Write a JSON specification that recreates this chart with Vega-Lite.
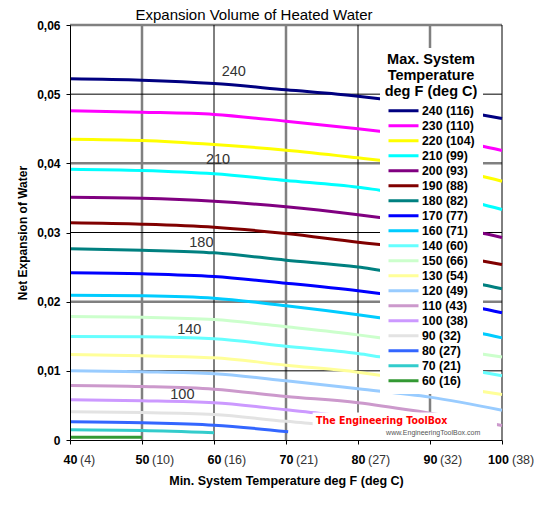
{
  "$schema": "https://vega.github.io/schema/vega-lite/v6.json",
  "width": 432,
  "height": 415,
  "autosize": {"type": "none"},
  "padding": {"left": 70, "top": 25, "right": 34, "bottom": 70},
  "background": "white",
  "config": {"font": "Liberation Sans", "view": {"stroke": null}},
  "title": {"text": "Expansion Volume of Heated Water", "fontSize": 15, "fontWeight": "normal", "color": "black", "anchor": "middle", "frame": "group", "dx": -32, "offset": -16, "baseline": "alphabetic"},
  "datasets": {
    "lines": [
      {"s": "240 (116)", "F": 40, "v": 0.05222}, {"s": "240 (116)", "F": 50, "v": 0.05202}, {"s": "240 (116)", "F": 60, "v": 0.05154}, {"s": "240 (116)", "F": 70, "v": 0.05063}, {"s": "240 (116)", "F": 80, "v": 0.04971}, {"s": "240 (116)", "F": 83, "v": 0.04933}, {"s": "240 (116)", "F": 96.7, "v": 0.0471}, {"s": "240 (116)", "F": 100, "v": 0.04648},
      {"s": "230 (110)", "F": 40, "v": 0.04759}, {"s": "230 (110)", "F": 50, "v": 0.04739}, {"s": "230 (110)", "F": 60, "v": 0.04706}, {"s": "230 (110)", "F": 70, "v": 0.04609}, {"s": "230 (110)", "F": 80, "v": 0.04499}, {"s": "230 (110)", "F": 83, "v": 0.04464}, {"s": "230 (110)", "F": 96.7, "v": 0.04262}, {"s": "230 (110)", "F": 100, "v": 0.04185},
      {"s": "220 (104)", "F": 40, "v": 0.04349}, {"s": "220 (104)", "F": 50, "v": 0.0433}, {"s": "220 (104)", "F": 60, "v": 0.04272}, {"s": "220 (104)", "F": 70, "v": 0.0419}, {"s": "220 (104)", "F": 80, "v": 0.0408}, {"s": "220 (104)", "F": 83, "v": 0.04045}, {"s": "220 (104)", "F": 96.7, "v": 0.03824}, {"s": "220 (104)", "F": 100, "v": 0.03742},
      {"s": "210 (99)", "F": 40, "v": 0.03915}, {"s": "210 (99)", "F": 50, "v": 0.03896}, {"s": "210 (99)", "F": 60, "v": 0.03848}, {"s": "210 (99)", "F": 70, "v": 0.03752}, {"s": "210 (99)", "F": 80, "v": 0.03655}, {"s": "210 (99)", "F": 83, "v": 0.03612}, {"s": "210 (99)", "F": 96.7, "v": 0.03419}, {"s": "210 (99)", "F": 100, "v": 0.03332},
      {"s": "200 (93)", "F": 40, "v": 0.0351}, {"s": "200 (93)", "F": 50, "v": 0.03496}, {"s": "200 (93)", "F": 60, "v": 0.03452}, {"s": "200 (93)", "F": 70, "v": 0.03371}, {"s": "200 (93)", "F": 80, "v": 0.03256}, {"s": "200 (93)", "F": 83, "v": 0.03217}, {"s": "200 (93)", "F": 96.7, "v": 0.03004}, {"s": "200 (93)", "F": 100, "v": 0.02928},
      {"s": "190 (88)", "F": 40, "v": 0.0314}, {"s": "190 (88)", "F": 50, "v": 0.0312}, {"s": "190 (88)", "F": 60, "v": 0.03077}, {"s": "190 (88)", "F": 70, "v": 0.02985}, {"s": "190 (88)", "F": 80, "v": 0.0286}, {"s": "190 (88)", "F": 83, "v": 0.02826}, {"s": "190 (88)", "F": 96.7, "v": 0.026}, {"s": "190 (88)", "F": 100, "v": 0.02537},
      {"s": "180 (82)", "F": 40, "v": 0.02766}, {"s": "180 (82)", "F": 50, "v": 0.02744}, {"s": "180 (82)", "F": 60, "v": 0.02706}, {"s": "180 (82)", "F": 70, "v": 0.026}, {"s": "180 (82)", "F": 80, "v": 0.025}, {"s": "180 (82)", "F": 83, "v": 0.02455}, {"s": "180 (82)", "F": 96.7, "v": 0.02258}, {"s": "180 (82)", "F": 100, "v": 0.02186},
      {"s": "170 (77)", "F": 40, "v": 0.02417}, {"s": "170 (77)", "F": 50, "v": 0.02403}, {"s": "170 (77)", "F": 60, "v": 0.02364}, {"s": "170 (77)", "F": 70, "v": 0.02267}, {"s": "170 (77)", "F": 80, "v": 0.02157}, {"s": "170 (77)", "F": 83, "v": 0.02118}, {"s": "170 (77)", "F": 96.7, "v": 0.01911}, {"s": "170 (77)", "F": 100, "v": 0.01839},
      {"s": "160 (71)", "F": 40, "v": 0.02094}, {"s": "160 (71)", "F": 50, "v": 0.02085}, {"s": "160 (71)", "F": 60, "v": 0.0205}, {"s": "160 (71)", "F": 70, "v": 0.0194}, {"s": "160 (71)", "F": 80, "v": 0.0181}, {"s": "160 (71)", "F": 83, "v": 0.01767}, {"s": "160 (71)", "F": 96.7, "v": 0.0155}, {"s": "160 (71)", "F": 100, "v": 0.01477},
      {"s": "150 (66)", "F": 40, "v": 0.01785}, {"s": "150 (66)", "F": 50, "v": 0.01775}, {"s": "150 (66)", "F": 60, "v": 0.01742}, {"s": "150 (66)", "F": 70, "v": 0.01637}, {"s": "150 (66)", "F": 80, "v": 0.0152}, {"s": "150 (66)", "F": 83, "v": 0.01477}, {"s": "150 (66)", "F": 96.7, "v": 0.0125}, {"s": "150 (66)", "F": 100, "v": 0.012},
      {"s": "140 (60)", "F": 40, "v": 0.01496}, {"s": "140 (60)", "F": 50, "v": 0.01492}, {"s": "140 (60)", "F": 60, "v": 0.01463}, {"s": "140 (60)", "F": 70, "v": 0.01356}, {"s": "140 (60)", "F": 80, "v": 0.0125}, {"s": "140 (60)", "F": 83, "v": 0.01203}, {"s": "140 (60)", "F": 96.7, "v": 0.0099}, {"s": "140 (60)", "F": 100, "v": 0.0093},
      {"s": "130 (54)", "F": 40, "v": 0.01236}, {"s": "130 (54)", "F": 50, "v": 0.01217}, {"s": "130 (54)", "F": 60, "v": 0.01188}, {"s": "130 (54)", "F": 70, "v": 0.01081}, {"s": "130 (54)", "F": 80, "v": 0.0098}, {"s": "130 (54)", "F": 83, "v": 0.00937}, {"s": "130 (54)", "F": 90.2, "v": 0.00812}, {"s": "130 (54)", "F": 100, "v": 0.00658},
      {"s": "120 (49)", "F": 40, "v": 0.01}, {"s": "120 (49)", "F": 50, "v": 0.00986}, {"s": "120 (49)", "F": 60, "v": 0.00957}, {"s": "120 (49)", "F": 70, "v": 0.00856}, {"s": "120 (49)", "F": 80, "v": 0.0074}, {"s": "120 (49)", "F": 90, "v": 0.0062}, {"s": "120 (49)", "F": 100, "v": 0.00431},
      {"s": "110 (43)", "F": 40, "v": 0.00788}, {"s": "110 (43)", "F": 50, "v": 0.00773}, {"s": "110 (43)", "F": 60, "v": 0.00735}, {"s": "110 (43)", "F": 70, "v": 0.00629}, {"s": "110 (43)", "F": 80, "v": 0.0054}, {"s": "110 (43)", "F": 88.8, "v": 0.00408}, {"s": "110 (43)", "F": 100, "v": 0.0021},
      {"s": "100 (38)", "F": 40, "v": 0.00581}, {"s": "100 (38)", "F": 50, "v": 0.00567}, {"s": "100 (38)", "F": 60, "v": 0.00538}, {"s": "100 (38)", "F": 70, "v": 0.00437}, {"s": "100 (38)", "F": 74, "v": 0.00393}, {"s": "100 (38)", "F": 80, "v": 0.0031}, {"s": "100 (38)", "F": 90, "v": 0.0017},
      {"s": "90 (32)", "F": 40, "v": 0.00407}, {"s": "90 (32)", "F": 50, "v": 0.00398}, {"s": "90 (32)", "F": 60, "v": 0.00369}, {"s": "90 (32)", "F": 70, "v": 0.0027}, {"s": "90 (32)", "F": 73.5, "v": 0.0024}, {"s": "90 (32)", "F": 80, "v": 0.0016},
      {"s": "80 (27)", "F": 40, "v": 0.00263}, {"s": "80 (27)", "F": 50, "v": 0.00249}, {"s": "80 (27)", "F": 60, "v": 0.00214}, {"s": "80 (27)", "F": 70.3, "v": 0.00119},
      {"s": "70 (21)", "F": 40, "v": 0.00147}, {"s": "70 (21)", "F": 50, "v": 0.00137}, {"s": "70 (21)", "F": 60, "v": 0.00104},
      {"s": "60 (16)", "F": 40, "v": 0.0004}, {"s": "60 (16)", "F": 50, "v": 0.0004}
    ]
  },
  "layer": [
    {
      "data": {"values": [{"F": 50}, {"F": 70}, {"F": 90}]},
      "mark": {"type": "rule", "color": "#808080", "strokeWidth": 2.5},
      "encoding": {"x": {"field": "F", "type": "quantitative", "scale": {"domain": [40, 100], "nice": false, "zero": false}}}
    },
    {
      "data": {"values": [{"v": 0.02}, {"v": 0.04}, {"v": 0.06}]},
      "mark": {"type": "rule", "color": "#808080", "strokeWidth": 2.5},
      "encoding": {"y": {"field": "v", "type": "quantitative", "scale": {"domain": [0, 0.06], "nice": false}}}
    },
    {
      "data": {"values": [{"F": 60}, {"F": 80}, {"F": 100}]},
      "mark": {"type": "rule", "color": "black", "strokeWidth": 1},
      "encoding": {"x": {"field": "F", "type": "quantitative", "scale": {"domain": [40, 100], "nice": false, "zero": false}}}
    },
    {
      "data": {"values": [{"v": 0.01}, {"v": 0.03}, {"v": 0.05}]},
      "mark": {"type": "rule", "color": "black", "strokeWidth": 1},
      "encoding": {"y": {"field": "v", "type": "quantitative", "scale": {"domain": [0, 0.06], "nice": false}}}
    },
    {
      "data": {"name": "lines"},
      "mark": {"type": "line", "strokeWidth": 3, "interpolate": "monotone"},
      "encoding": {
        "x": {"field": "F", "type": "quantitative", "scale": {"domain": [40, 100], "nice": false, "zero": false},
          "axis": {"title": "Min. System Temperature deg F (deg C)", "values": [40, 50, 60, 70, 80, 90, 100], "grid": false, "zindex": 1, "labelFlush": false,
            "labelOffset": {"condition": {"test": "datum.value == 100", "value": -4}, "value": 0},
            "domainColor": "black", "tickColor": "black", "tickSize": 4, "labelPadding": 9, "labelFontSize": 12.5, "labelFontWeight": "bold", "labelColor": "black",
            "titleFontSize": 12.5, "titleFontWeight": "bold", "titleColor": "black", "titlePadding": 9}},
        "y": {"field": "v", "type": "quantitative", "scale": {"domain": [0, 0.06], "nice": false},
          "axis": {"title": "Net Expansion of Water", "values": [0, 0.01, 0.02, 0.03, 0.04, 0.05, 0.06], "grid": false, "zindex": 1, "labelFlush": false,
            "labelExpr": "datum.value == 0 ? '0' : replace(format(datum.value, '.2f'), '.', ',')",
            "domainColor": "black", "tickColor": "black", "tickSize": 4, "labelPadding": 6, "labelFontSize": 12, "labelFontWeight": "bold", "labelColor": "black",
            "titleFontSize": 12, "titleFontWeight": "bold", "titleColor": "black", "titlePadding": 7}},
        "color": {"field": "s", "type": "nominal",
          "scale": {
            "domain": ["240 (116)", "230 (110)", "220 (104)", "210 (99)", "200 (93)", "190 (88)", "180 (82)", "170 (77)", "160 (71)", "140 (60)", "150 (66)", "130 (54)", "120 (49)", "110 (43)", "100 (38)", "90 (32)", "80 (27)", "70 (21)", "60 (16)"],
            "range": ["#000080", "#FF00FF", "#FFFF00", "#00FFFF", "#800080", "#800000", "#008080", "#0000FF", "#00CCFF", "#66FFFF", "#CCFFCC", "#FFFF99", "#99CCFF", "#CC99CC", "#CC99FF", "#E3E3E3", "#3366FF", "#33CCCC", "#339933"]
          },
          "legend": {
            "title": ["Max. System", "Temperature", "deg F (deg C)"],
            "orient": "none", "legendX": 310, "legendY": 23,
            "fillColor": "white", "padding": 5,
            "titleFontSize": 14.5, "titleFontWeight": "bold", "titleColor": "black", "titleAnchor": "middle", "titleAlign": "center", "titleLineHeight": 16, "titlePadding": 4,
            "labelFontSize": 12.3, "labelFontWeight": "bold", "labelColor": "black", "labelOffset": 2, "labelLimit": 200,
            "symbolType": "stroke", "symbolSize": 900, "symbolStrokeWidth": 3, "clipHeight": 14.6, "rowPadding": 0, "symbolOffset": 0
          }
        },
        "order": {"field": "F"}
      }
    },
    {
      "data": {"values": [
        {"F": 62.74, "v": 0.0532, "t": "240"},
        {"F": 60.56, "v": 0.04048, "t": "210"},
        {"F": 58.25, "v": 0.02848, "t": "180"},
        {"F": 56.56, "v": 0.0159, "t": "140"},
        {"F": 55.61, "v": 0.00653, "t": "100"}
      ]},
      "mark": {"type": "text", "fontSize": 14.5, "color": "#333333", "align": "center", "baseline": "middle"},
      "encoding": {
        "x": {"field": "F", "type": "quantitative", "scale": {"domain": [40, 100], "nice": false, "zero": false}},
        "y": {"field": "v", "type": "quantitative", "scale": {"domain": [0, 0.06], "nice": false}},
        "text": {"field": "t"}
      }
    },
    {
      "data": {"values": [{"F": 73.7, "F2": 99.3, "v": 0, "v2": 0.00398}]},
      "mark": {"type": "rect", "color": "white"},
      "encoding": {
        "x": {"field": "F", "type": "quantitative", "scale": {"domain": [40, 100], "nice": false, "zero": false}},
        "x2": {"field": "F2"},
        "y": {"field": "v", "type": "quantitative", "scale": {"domain": [0, 0.06], "nice": false}},
        "y2": {"field": "v2"}
      }
    },
    {
      "data": {"values": [{"F": 83.3, "v": 0.00275, "t": "The Engineering ToolBox"}]},
      "mark": {"type": "text", "font": "DejaVu Sans Condensed", "fontWeight": "bold", "fontSize": 10.5, "color": "#FF0000", "align": "center", "baseline": "middle"},
      "encoding": {
        "x": {"field": "F", "type": "quantitative", "scale": {"domain": [40, 100], "nice": false, "zero": false}},
        "y": {"field": "v", "type": "quantitative", "scale": {"domain": [0, 0.06], "nice": false}},
        "text": {"field": "t"}
      }
    },
    {
      "data": {"values": [{"F": 90.44, "v": 0.00094, "t": "www.EngineeringToolBox.com"}]},
      "mark": {"type": "text", "fontSize": 7, "color": "#555555", "align": "center", "baseline": "middle"},
      "encoding": {
        "x": {"field": "F", "type": "quantitative", "scale": {"domain": [40, 100], "nice": false, "zero": false}},
        "y": {"field": "v", "type": "quantitative", "scale": {"domain": [0, 0.06], "nice": false}},
        "text": {"field": "t"}
      }
    },
    {
      "data": {"values": [
        {"F": 40, "t": "(4)"}, {"F": 50, "t": "(10)"}, {"F": 60, "t": "(16)"}, {"F": 70, "t": "(21)"},
        {"F": 80, "t": "(27)"}, {"F": 90, "t": "(32)"}, {"F": 100, "t": "(38)"}
      ]},
      "mark": {"type": "text", "fontSize": 12.5, "color": "#333333", "align": "left", "baseline": "middle", "dx": 10, "dy": 19.5},
      "encoding": {
        "x": {"field": "F", "type": "quantitative", "scale": {"domain": [40, 100], "nice": false, "zero": false}},
        "y": {"datum": 0, "type": "quantitative", "scale": {"domain": [0, 0.06], "nice": false}},
        "text": {"field": "t"}
      }
    }
  ]
}
